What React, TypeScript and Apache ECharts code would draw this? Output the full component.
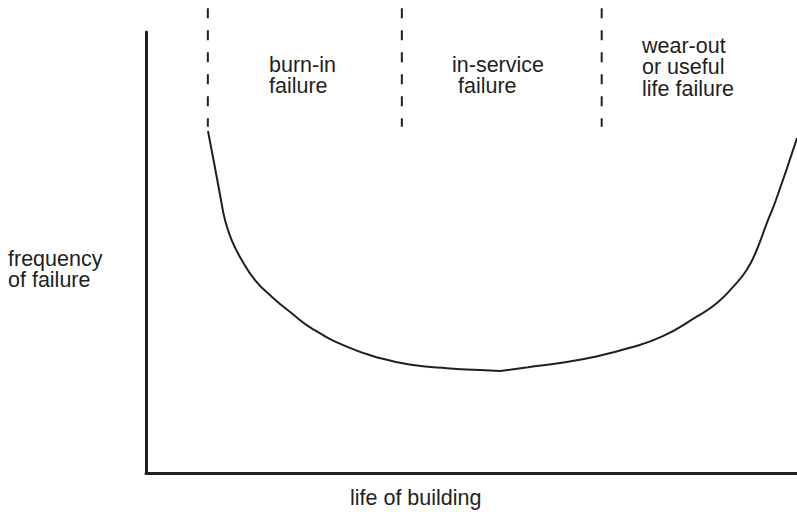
import React, { useEffect, useRef } from "react";
import * as echarts from "echarts";

// Bathtub curve: left branch (burn-in down to minimum) and right branch (minimum up to wear-out)
const burnInX = [9.52, 10.52, 11.52, 12.14, 13.16, 14.7, 16.74, 19.31, 22.38, 25.45, 30.83, 36.05, 41.01, 46.19, 51.31, 54.38];
const burnInY = [77.55, 69.84, 61.9, 57.37, 52.83, 48.3, 43.76, 39.98, 36.21, 32.81, 28.64, 26.01, 24.49, 23.74, 23.36, 23.13];
const wearOutX = [54.38, 58.68, 63.86, 68.97, 74.04, 79.22, 84.59, 87.66, 90.21, 92.27, 93.81, 95.35, 96.77, 100];
const wearOutY = [23.13, 23.97, 25.01, 26.37, 28.28, 30.91, 35.44, 38.48, 42.25, 46.03, 50.57, 56.62, 61.9, 75.96];

// Phase boundaries (dashed vertical lines)
const boundaryX = [9.5, 39.3, 70.0];
const boundaryTop = 105.4;
const boundaryBottom = 78.5;

const phaseLabels = ["burn-in\nfailure", "in-service", " failure", "wear-out\nor useful\nlife failure"];
const yAxisLabel = "frequency\nof failure";
const xAxisLabel = "life of building";

const INK = "#231f20";
const FONT = '21.5px "Liberation Sans", Arial, sans-serif';

export default function App() {
  const ref = useRef<HTMLDivElement>(null);
  useEffect(() => {
    if (!ref.current) return;
    const chart = echarts.init(ref.current, null, { renderer: "svg" });
    const pair = (xs: number[], ys: number[]) => xs.map((x, i) => [x, ys[i]]);
    const boundarySeries = boundaryX.map((x) => ({
      type: "line",
      data: [
        [x, boundaryTop],
        [x, boundaryBottom],
      ],
      clip: false,
      symbol: "none",
      silent: true,
      lineStyle: { color: INK, width: 2, type: [10, 12] },
    }));
    const txt = (text: string, x: number, y: number) => ({
      type: "text",
      x,
      y,
      silent: true,
      style: { text, font: FONT, fill: INK, lineHeight: 21.5, verticalAlign: "top", align: "left" },
    });
    chart.setOption({
      animation: false,
      backgroundColor: "#ffffff",
      grid: { left: 146, right: 0, top: 32, bottom: 39, containLabel: false },
      xAxis: {
        type: "value",
        min: 0,
        max: 100,
        axisLine: { show: true, onZero: false, lineStyle: { color: INK, width: 3 } },
        axisTick: { show: false },
        axisLabel: { show: false },
        splitLine: { show: false },
      },
      yAxis: {
        type: "value",
        min: 0,
        max: 100,
        axisLine: { show: true, onZero: false, lineStyle: { color: INK, width: 3 } },
        axisTick: { show: false },
        axisLabel: { show: false },
        splitLine: { show: false },
      },
      series: [
        {
          type: "line",
          data: pair(burnInX, burnInY),
          smooth: 0.5,
          symbol: "none",
          lineStyle: { color: INK, width: 2 },
        },
        {
          type: "line",
          data: pair(wearOutX, wearOutY),
          smooth: 0.5,
          symbol: "none",
          clip: false,
          lineStyle: { color: INK, width: 2 },
        },
        ...boundarySeries,
      ],
      graphic: [
        txt(phaseLabels[0], 269, 53.75),
        txt(phaseLabels[1], 452, 53.75),
        txt(phaseLabels[2], 452, 75.25),
        txt(phaseLabels[3], 642, 34.75),
        txt(yAxisLabel, 8, 247.75),
        txt(xAxisLabel, 350, 486.75),
      ],
    });
    return () => chart.dispose();
  }, []);
  return <div ref={ref} style={{ width: 797, height: 512, position: "absolute", left: 0, top: 0 }} />;
}
